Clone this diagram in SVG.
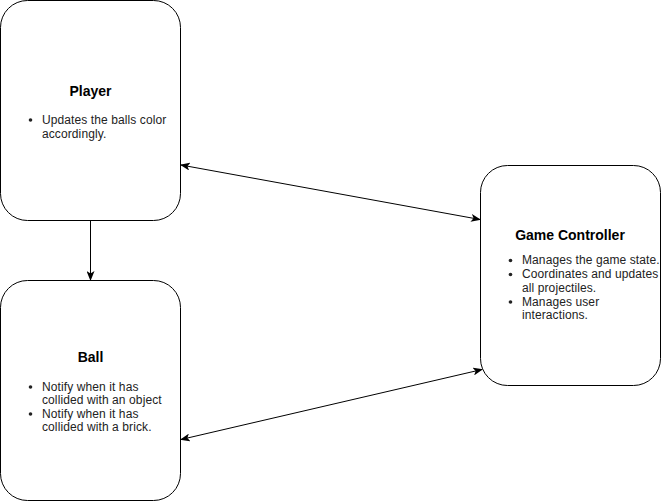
<svg xmlns="http://www.w3.org/2000/svg" width="661" height="501" viewBox="0 0 661 501">
  <defs>
    <marker id="arrow" viewBox="0 0 10 8" refX="9" refY="4" markerWidth="10" markerHeight="8" markerUnits="userSpaceOnUse" orient="auto-start-reverse">
      <path d="M0,0 L10,4 L0,8 L2.5,4 Z" fill="#000"/>
    </marker>
  </defs>
  <style>
    .box { fill: #fff; stroke: #000; stroke-width: 1; }
    .title { font-family: "Liberation Sans", Arial, sans-serif; font-size: 14px; font-weight: bold; fill: #000; text-anchor: middle; }
    .item { font-family: "Liberation Sans", Arial, sans-serif; font-size: 12px; fill: #222; letter-spacing: 0.1px; }
    .dot { fill: #222; }
    .edge { fill: none; stroke: #000; stroke-width: 1; }
  </style>
  <rect width="661" height="501" fill="#fff"/>

  <g id="connectors">
    <line class="edge" x1="90.5" y1="220.5" x2="90.5" y2="280" marker-end="url(#arrow)"/>
    <line class="edge" x1="181" y1="165" x2="480" y2="219.5" marker-start="url(#arrow)" marker-end="url(#arrow)"/>
    <line class="edge" x1="181" y1="439.5" x2="482" y2="369.5" marker-start="url(#arrow)" marker-end="url(#arrow)"/>
  </g>

  <g id="player">
    <rect class="box" x="0.5" y="0.5" width="180" height="220" rx="27" ry="27"/>
    <text class="title" x="90.5" y="96">Player</text>
    <circle class="dot" cx="30.5" cy="120" r="1.8"/>
    <text class="item" x="42" y="124">Updates the balls color</text>
    <text class="item" x="42" y="137.5">accordingly.</text>
  </g>

  <g id="ball">
    <rect class="box" x="0.5" y="280.5" width="180" height="220" rx="27" ry="27"/>
    <text class="title" x="90.5" y="362">Ball</text>
    <circle class="dot" cx="30.5" cy="387" r="1.8"/>
    <text class="item" x="42" y="390.5">Notify when it has</text>
    <text class="item" x="42" y="404">collided with an object</text>
    <circle class="dot" cx="30.5" cy="414" r="1.8"/>
    <text class="item" x="42" y="417.5">Notify when it has</text>
    <text class="item" x="42" y="431">collided with a brick.</text>
  </g>

  <g id="game-controller">
    <rect class="box" x="480.5" y="165.5" width="180" height="220" rx="27" ry="27"/>
    <text class="title" x="570" y="240">Game Controller</text>
    <circle class="dot" cx="510.5" cy="260.5" r="1.8"/>
    <text class="item" x="522" y="264">Manages the game state.</text>
    <circle class="dot" cx="510.5" cy="274.5" r="1.8"/>
    <text class="item" x="522" y="278">Coordinates and updates</text>
    <text class="item" x="522" y="291.5">all projectiles.</text>
    <circle class="dot" cx="510.5" cy="302" r="1.8"/>
    <text class="item" x="522" y="305.5">Manages user</text>
    <text class="item" x="522" y="319">interactions.</text>
  </g>
</svg>
